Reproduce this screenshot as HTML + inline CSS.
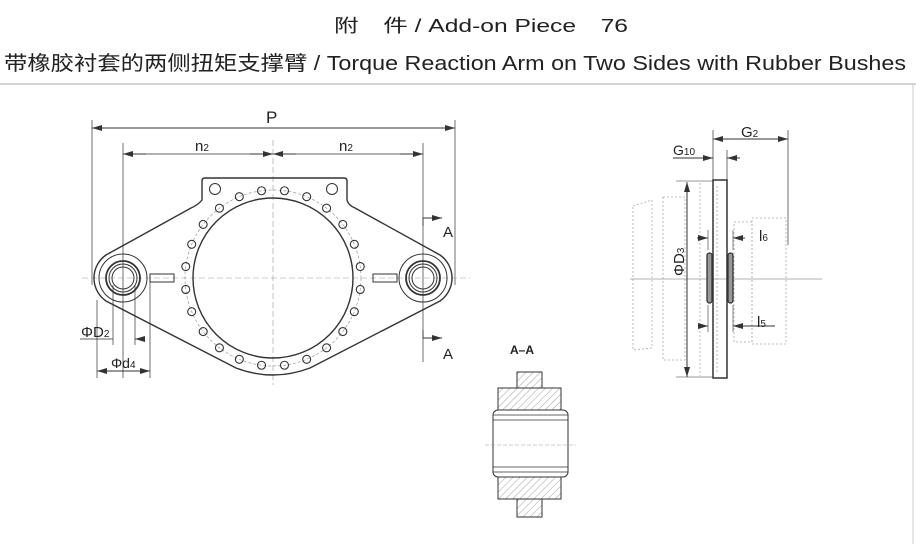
<!DOCTYPE html>
<html><head><meta charset="utf-8"><style>
html,body{margin:0;padding:0;background:#fff;}
svg{display:block;}
text{font-family:"Liberation Sans","Noto Sans CJK SC",sans-serif;fill:#222;}
</style></head><body>
<svg id="s" width="916" height="544" viewBox="0 0 916 544" xmlns="http://www.w3.org/2000/svg">
<defs>
<marker id="ar" markerWidth="10" markerHeight="6" refX="10" refY="3" orient="auto" markerUnits="userSpaceOnUse"><path d="M0,0 L10,3 L0,6 z" fill="#333"/></marker>
<pattern id="h" width="5" height="5" patternUnits="userSpaceOnUse" patternTransform="rotate(45)"><line x1="0" y1="0" x2="0" y2="5" stroke="#888" stroke-width="0.8"/></pattern>
</defs>
<text x="334" y="32" font-size="18" textLength="294" lengthAdjust="spacingAndGlyphs">附　件 / Add-on Piece　76</text>
<text x="4" y="70" font-size="20" textLength="902" lengthAdjust="spacingAndGlyphs">带橡胶衬套的两侧扭矩支撑臂 / Torque Reaction Arm on Two Sides with Rubber Bushes</text>
<line x1="0" y1="84" x2="916" y2="84" stroke="#bbb" stroke-width="1.2"/>
<line x1="913" y1="84" x2="913" y2="544" stroke="#ccc" stroke-width="1"/>

<g stroke="#333" fill="none" stroke-width="1">
<line x1="92" y1="128" x2="455" y2="128" marker-end="url(#ar)"/>
<line x1="455" y1="128" x2="92" y2="128" marker-end="url(#ar)"/>
<line x1="92" y1="120" x2="92" y2="285" stroke-width="0.7"/>
<line x1="455" y1="120" x2="455" y2="285" stroke-width="0.7"/>
<line x1="123" y1="154" x2="423" y2="154" stroke-width="0.8"/>
<line x1="250" y1="154" x2="273" y2="154" marker-end="url(#ar)"/>
<line x1="296" y1="154" x2="273" y2="154" marker-end="url(#ar)"/>
<line x1="146" y1="154" x2="123" y2="154" marker-end="url(#ar)"/>
<line x1="400" y1="154" x2="423" y2="154" marker-end="url(#ar)"/>
<line x1="123" y1="143" x2="123" y2="378" stroke-width="0.7"/>
<line x1="423" y1="143" x2="423" y2="362" stroke-width="0.7"/>
<line x1="82" y1="278" x2="470" y2="278" stroke="#999" stroke-width="0.6" stroke-dasharray="6,3"/>
<line x1="273" y1="140" x2="273" y2="385" stroke="#999" stroke-width="0.6" stroke-dasharray="6,3"/>
<path d="M202,200 L202,181 Q202,178 205,178 L344,178 Q347,178 347,181 L347,200 Q348,205 355,208 L440,255 A28,28 0 0 1 440,301 L310,368 Q273,382 236,368 L106,301 A28,28 0 0 1 106,255 L191,208 Q198,205 202,200 Z" stroke-width="1.4"/>
<circle cx="273" cy="278" r="80" stroke-width="1.4"/>
<circle cx="273" cy="278" r="88" stroke="#999" stroke-width="0.7" stroke-dasharray="3,2"/>
<circle cx="123" cy="278" r="24"/><circle cx="123" cy="278" r="17" stroke-width="1.8"/><circle cx="123" cy="278" r="14"/><circle cx="123" cy="278" r="11"/>
<circle cx="423" cy="278" r="24"/><circle cx="423" cy="278" r="17" stroke-width="1.8"/><circle cx="423" cy="278" r="14"/><circle cx="423" cy="278" r="11"/>
<rect x="150" y="274" width="24" height="8"/>
<rect x="373" y="274" width="24" height="8"/>
<circle cx="215" cy="189" r="5.5"/><circle cx="332" cy="189" r="5.5"/>
<g id="holes"></g>
<polyline points="423,226 423,218 440,218" stroke-width="0.9"/>
<line x1="428" y1="218" x2="442" y2="218" marker-end="url(#ar)"/>
<polyline points="423,330 423,338 440,338" stroke-width="0.9"/>
<line x1="428" y1="338" x2="442" y2="338" marker-end="url(#ar)"/>
<line x1="113" y1="285" x2="113" y2="345" stroke-width="0.7"/>
<line x1="135" y1="285" x2="135" y2="345" stroke-width="0.7"/>
<line x1="80" y1="339" x2="113" y2="339" stroke-width="0.8"/>
<line x1="145" y1="339" x2="135" y2="339" marker-end="url(#ar)"/>
<line x1="97" y1="300" x2="97" y2="378" stroke-width="0.7"/>
<line x1="150" y1="282" x2="150" y2="378" stroke-width="0.7"/>
<line x1="123" y1="371" x2="97" y2="371" marker-end="url(#ar)"/>
<line x1="123" y1="371" x2="150" y2="371" marker-end="url(#ar)"/>
</g>
<text x="266" y="123" font-size="17">P</text>
<text x="195" y="151" font-size="15">n<tspan font-size="10">2</tspan></text>
<text x="339" y="151" font-size="15">n<tspan font-size="10">2</tspan></text>
<text x="443" y="237" font-size="15">A</text>
<text x="443" y="359" font-size="15">A</text>
<text x="81" y="337" font-size="15">ΦD<tspan font-size="10">2</tspan></text>
<text x="111" y="368" font-size="14">Φd<tspan font-size="10">4</tspan></text>

<g stroke="#333" fill="none" stroke-width="1">
<g stroke="#aaa" stroke-width="0.8" stroke-dasharray="2,2">
<path d="M633,206 L652,200 L652,348 L633,350 Z"/>
<rect x="663" y="197" width="22" height="163"/>
<line x1="700" y1="183" x2="700" y2="376"/>
<rect x="734" y="222" width="18" height="120"/>
<rect x="752" y="218" width="34" height="126"/>
<line x1="717" y1="186" x2="717" y2="372"/>
</g>
<line x1="630" y1="279" x2="822" y2="279" stroke="#999" stroke-width="0.7"/>
<rect x="713" y="180" width="14" height="198" stroke-width="1.5"/>
<rect x="707" y="253" width="5" height="50" rx="2.5" stroke-width="1.3" fill="#999"/>
<rect x="728" y="253" width="5" height="50" rx="2.5" stroke-width="1.3" fill="#999"/>
<line x1="713" y1="130" x2="713" y2="180" stroke-width="0.7"/>
<line x1="727" y1="150" x2="727" y2="180" stroke-width="0.7"/>
<line x1="788" y1="130" x2="788" y2="245" stroke-width="0.7"/>
<line x1="750" y1="139" x2="713" y2="139" marker-end="url(#ar)"/>
<line x1="750" y1="139" x2="788" y2="139" marker-end="url(#ar)"/>
<line x1="673" y1="158" x2="713" y2="158" marker-end="url(#ar)"/>
<line x1="740" y1="158" x2="727" y2="158" marker-end="url(#ar)"/>
<line x1="676" y1="181" x2="713" y2="181" stroke-width="0.6"/>
<line x1="676" y1="377" x2="713" y2="377" stroke-width="0.6"/>
<line x1="687" y1="280" x2="687" y2="182" marker-end="url(#ar)"/>
<line x1="687" y1="280" x2="687" y2="377" marker-end="url(#ar)"/>
<line x1="697" y1="238" x2="708" y2="238" marker-end="url(#ar)"/>
<line x1="745" y1="238" x2="733" y2="238" marker-end="url(#ar)"/>
<line x1="708" y1="230" x2="708" y2="250" stroke-width="0.6"/>
<line x1="733" y1="230" x2="733" y2="250" stroke-width="0.6"/>
<line x1="698" y1="326" x2="708" y2="326" marker-end="url(#ar)"/>
<line x1="775" y1="326" x2="733" y2="326" marker-end="url(#ar)"/>
<line x1="708" y1="305" x2="708" y2="332" stroke-width="0.6"/>
<line x1="733" y1="305" x2="733" y2="332" stroke-width="0.6"/>
</g>
<text x="741" y="137" font-size="15">G<tspan font-size="10">2</tspan></text>
<text x="673" y="155" font-size="14">G<tspan font-size="10">10</tspan></text>
<text x="759" y="241" font-size="15">l<tspan font-size="10">6</tspan></text>
<text x="757" y="327" font-size="15">l<tspan font-size="10">5</tspan></text>
<text transform="translate(684,276) rotate(-90)" font-size="15">ΦD<tspan font-size="10">3</tspan></text>

<text x="510" y="354" font-size="12" font-weight="bold">A–A</text>
<g stroke="#333" stroke-width="1">
<rect x="517" y="372" width="25" height="16" fill="url(#h)"/>
<rect x="498" y="388" width="63" height="22" fill="url(#h)"/>
<rect x="493" y="410" width="75" height="67" rx="5" fill="#fff"/>
<line x1="493" y1="415" x2="568" y2="415" stroke-width="0.8"/>
<line x1="493" y1="420" x2="568" y2="420" stroke-width="0.8"/>
<line x1="493" y1="467" x2="568" y2="467" stroke-width="0.8"/>
<line x1="493" y1="472" x2="568" y2="472" stroke-width="0.8"/>
<rect x="498" y="477" width="63" height="22" fill="url(#h)"/>
<rect x="517" y="499" width="25" height="18" fill="url(#h)"/>
<line x1="485" y1="445" x2="576" y2="445" stroke="#999" stroke-width="0.6" stroke-dasharray="4,2"/>
</g>
</svg>
<script>
var g=document.getElementById('holes'),ns='http://www.w3.org/2000/svg';
for(var k=0;k<24;k++){var a=(7.5+15*k)*Math.PI/180;var c=document.createElementNS(ns,'circle');
c.setAttribute('cx',273+88*Math.sin(a));c.setAttribute('cy',278-88*Math.cos(a));c.setAttribute('r',4);c.setAttribute('stroke-width','1.1');g.appendChild(c);}
</script>
</body></html>
